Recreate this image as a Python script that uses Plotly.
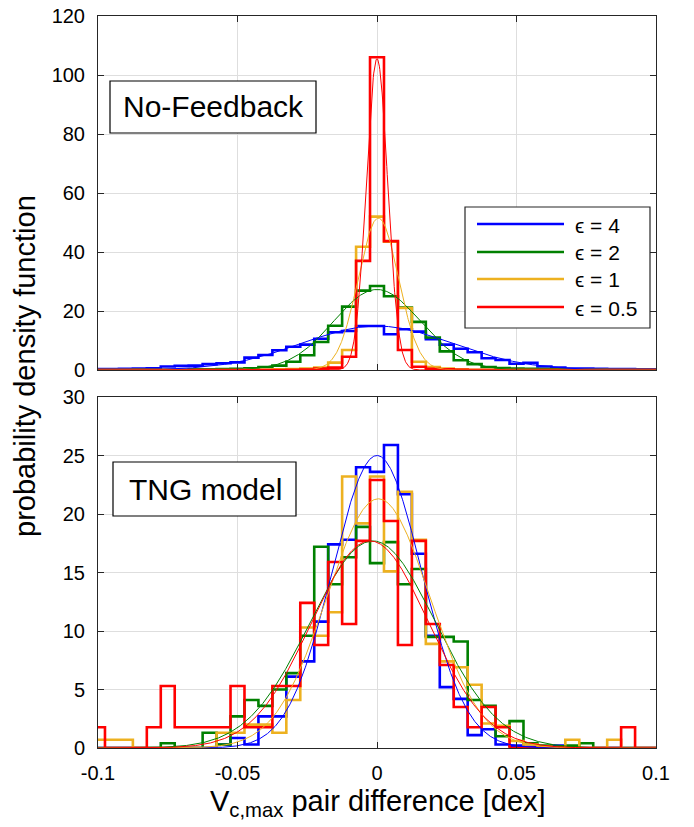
import numpy as np
import plotly.graph_objects as go

# ---------------- data ----------------
bin_centers = [-0.1, -0.095, -0.09, -0.085, -0.08, -0.075, -0.07, -0.065, -0.06, -0.055,
               -0.05, -0.045, -0.04, -0.035, -0.03, -0.025, -0.02, -0.015, -0.01, -0.005,
               0.0, 0.005, 0.01, 0.015, 0.02, 0.025, 0.03, 0.035, 0.04, 0.045,
               0.05, 0.055, 0.06, 0.065, 0.07, 0.075, 0.08, 0.085, 0.09, 0.095, 0.1]
bin_width = 0.005

series_names = ["ϵ = 4", "ϵ = 2", "ϵ = 1", "ϵ = 0.5"]
series_colors = ["#0000FF", "#008000", "#EDB120", "#FF0000"]

# No-Feedback panel (pdf values per bin)
nf_eps4 = [0.3, 0.3, 0.4, 0.5, 0.6, 1.2, 1.4, 1.5, 2.0, 2.3,
           2.6, 4.2, 5.1, 6.7, 7.9, 8.6, 10.6, 12.8, 13.2, 14.9,
           14.9, 12.1, 13.8, 13.0, 10.4, 8.6, 7.2, 6.0, 4.0, 3.4,
           2.1, 2.4, 1.2, 0.8, 0.5, 0.5, 0.4, 0.3, 0.3, 0.2, 0.2]
nf_eps2 = [0.0, 0.0, 0.0, 0.1, 0.1, 0.1, 0.1, 0.2, 0.2, 0.3,
           0.4, 0.6, 1.0, 1.5, 2.8, 5.0, 9.5, 15.0, 21.5, 26.9,
           28.5, 25.0, 21.2, 16.3, 11.0, 6.3, 3.3, 2.0, 1.0, 0.7,
           0.5, 0.4, 0.3, 0.2, 0.1, 0.1, 0.1, 0.0, 0.0, 0.0, 0.0]
nf_eps1 = [0.0, 0.0, 0.0, 0.0, 0.0, 0.0, 0.0, 0.0, 0.0, 0.0,
           0.0, 0.1, 0.1, 0.2, 0.3, 0.45, 0.8, 2.5, 6.8, 41.8,
           52.0, 43.5, 21.0, 2.8, 1.0, 0.5, 0.2, 0.1, 0.1, 0.0,
           0.0, 0.0, 0.0, 0.0, 0.0, 0.0, 0.0, 0.0, 0.0, 0.0, 0.0]
nf_eps05 = [0.0, 0.0, 0.0, 0.0, 0.0, 0.0, 0.0, 0.0, 0.0, 0.0,
            0.0, 0.0, 0.0, 0.0, 0.1, 0.2, 0.5, 0.8, 4.5, 37.0,
            106.0, 43.7, 6.8, 1.1, 0.4, 0.2, 0.1, 0.0, 0.0, 0.0,
            0.0, 0.0, 0.0, 0.0, 0.0, 0.0, 0.0, 0.0, 0.0, 0.0, 0.0]

# TNG model panel
tng_eps4 = [0.0, 0.0, 0.0, 0.0, 0.0, 0.0, 0.0, 0.0, 0.0, 0.3,
            0.86, 0.3, 2.7, 2.7, 6.1, 7.4, 10.8, 17.4, 17.8, 24.0,
            23.6, 25.9, 21.7, 16.6, 9.6, 5.2, 4.2, 1.1, 1.6, 0.3,
            0.2, 0.1, 0.1, 0.2, 0.0, 0.0, 0.0, 0.0, 0.0, 0.0, 0.0]
tng_eps2 = [0.0, 0.0, 0.0, 0.0, 0.0, 0.4, 0.0, 0.0, 1.3, 0.3,
            2.7, 4.1, 3.6, 5.0, 6.4, 9.6, 17.2, 14.0, 16.3, 18.9,
            15.8, 17.6, 14.0, 15.3, 9.5, 9.5, 9.1, 4.1, 3.6, 1.0,
            2.3, 0.4, 0.2, 0.1, 0.2, 0.4, 0.0, 0.0, 0.0, 0.0, 0.0]
tng_eps1 = [0.7, 0.7, 0.7, 0.0, 0.0, 0.0, 0.0, 0.0, 0.0, 1.3,
            1.3, 2.0, 2.0, 1.3, 4.1, 10.3, 9.6, 11.6, 23.2, 19.2,
            23.2, 15.1, 21.9, 17.8, 8.9, 7.4, 6.9, 5.4, 2.1, 1.9,
            0.6, 0.3, 0.1, 0.0, 0.7, 0.0, 0.0, 0.7, 0.0, 0.0, 0.0]
tng_eps05 = [1.77, 0.0, 0.0, 0.0, 1.77, 5.3, 1.77, 1.77, 1.77, 1.77,
             5.3, 1.77, 1.77, 5.3, 5.3, 12.4, 8.8, 15.9, 10.6, 17.7,
             22.9, 19.4, 8.8, 17.7, 10.6, 7.1, 3.5, 1.77, 3.5, 1.77,
             0.0, 0.0, 0.0, 0.0, 0.0, 0.0, 0.0, 0.0, 1.77, 0.0, 0.0]

# fitted normal curves: peak height, mean, sigma
nf_fit_peak = [14.9, 27.3, 51.5, 105.5]
nf_fit_mu = [0.0, 0.0, 0.0005, 0.0]
nf_fit_sigma = [0.027, 0.0155, 0.0072, 0.0038]
tng_fit_peak = [25.0, 17.7, 21.3, 17.7]
tng_fit_mu = [0.0, -0.0015, 0.0005, -0.0025]
tng_fit_sigma = [0.016, 0.0225, 0.0185, 0.021]

x_ticks = [-0.1, -0.05, 0, 0.05, 0.1]
x_tick_labels = ["-0.1", "-0.05", "0", "0.05", "0.1"]
top_y_ticks = [0, 20, 40, 60, 80, 100, 120]
bottom_y_ticks = [0, 5, 10, 15, 20, 25, 30]

panel_labels = ["No-Feedback", "TNG model"]
x_title = "V<sub>c,max</sub> pair difference [dex]"
y_title = "probability density function"

# ---------------- figure ----------------
W, H = 694, 827
L, R, T, B = 98, 656, 16, 748   # plot-area edges in the picture
FONT = "Liberation Sans, Arial, Helvetica, sans-serif"
AXC = "#262626"
GRID = "#dedede"


def px(x):
    return (x - L) / (R - L)


def py(y):
    return (B - y) / (B - T)


def stairs(vals):
    lefts = [c - bin_width / 2 for c in bin_centers]
    xs = [lefts[0]] + lefts + [bin_centers[-1] + bin_width / 2]
    ys = [0.0] + list(vals) + [0.0]
    return xs, ys


fig = go.Figure()

panels = [
    ("x", "y", [nf_eps4, nf_eps2, nf_eps1, nf_eps05], nf_fit_peak, nf_fit_mu, nf_fit_sigma),
    ("x2", "y2", [tng_eps4, tng_eps2, tng_eps1, tng_eps05], tng_fit_peak, tng_fit_mu, tng_fit_sigma),
]

xf = np.linspace(-0.1, 0.1, 1201)
for xa, ya, hists, pk, mu, sg in panels:
    for vals, col, name in zip(hists, series_colors, series_names):
        xs, ys = stairs(vals)
        fig.add_trace(go.Scatter(x=xs, y=ys, mode="lines", line=dict(color=col, width=2.6, shape="hv"),
                                 name=name, showlegend=False, xaxis=xa, yaxis=ya, hoverinfo="skip"))
    for p, m, s, col in zip(pk, mu, sg, series_colors):
        yf = p * np.exp(-0.5 * ((xf - m) / s) ** 2)
        fig.add_trace(go.Scatter(x=xf, y=yf, mode="lines", line=dict(color=col, width=1),
                                 showlegend=False, xaxis=xa, yaxis=ya, hoverinfo="skip"))

common_axis = dict(showline=True, linecolor=AXC, linewidth=1, mirror="ticks", ticks="inside",
                   ticklen=6, tickcolor=AXC, showgrid=True, gridcolor=GRID, gridwidth=1,
                   zeroline=False, automargin=False, ticklabeloverflow="allow",
                   tickfont=dict(family=FONT, size=20, color="#000000"))

top_dom = [py(370), 1.0]
bot_dom = [0.0, py(397)]

fig.update_layout(
    width=W, height=H,
    margin=dict(l=L, r=W - R, t=T, b=H - B, autoexpand=False),
    paper_bgcolor="white", plot_bgcolor="white",
    font=dict(family=FONT, color="#000000"),
    hovermode=False,
    xaxis=dict(range=[-0.1, 0.1], tickvals=x_ticks, showticklabels=False, anchor="y", **common_axis),
    yaxis=dict(range=[0, 120], tickvals=top_y_ticks, domain=top_dom, anchor="x",
               ticklabelstandoff=8, **common_axis),
    xaxis2=dict(range=[-0.1, 0.1], tickvals=x_ticks, ticktext=x_tick_labels, anchor="y2",
                ticklabelstandoff=7, **common_axis),
    yaxis2=dict(range=[0, 30], tickvals=bottom_y_ticks, domain=bot_dom, anchor="x2",
                ticklabelstandoff=8, **common_axis),
    showlegend=False,
)

shapes = []
annotations = []

# panel label boxes
boxes = [((110, 81, 316, 133), (213, 107)), ((113, 462, 296, 516), (205, 489))]
for (x0, y0, x1, y1), _ in boxes:
    shapes.append(dict(type="rect", xref="paper", yref="paper", x0=px(x0), x1=px(x1), y0=py(y1), y1=py(y0),
                       line=dict(color="#000000", width=1.2), fillcolor="white", layer="above"))
for lab, (_, (tx, ty)) in zip(panel_labels, boxes):
    annotations.append(dict(text=lab, xref="paper", yref="paper", x=px(tx), y=py(ty), showarrow=False,
                            xanchor="center", yanchor="middle", font=dict(family=FONT, size=30, color="#000000")))

# legend (top panel)
shapes.append(dict(type="rect", xref="paper", yref="paper", x0=px(465), x1=px(650), y0=py(328), y1=py(207),
                   line=dict(color=AXC, width=1.2), fillcolor="white", layer="above"))
leg_y = [224, 252, 279, 307]
for name, col, yy in zip(series_names, series_colors, leg_y):
    shapes.append(dict(type="line", xref="paper", yref="paper", x0=px(477), x1=px(564), y0=py(yy), y1=py(yy),
                       line=dict(color=col, width=2.6), layer="above"))
    annotations.append(dict(text=name, xref="paper", yref="paper", x=px(573), y=py(yy + 1), showarrow=False,
                            xanchor="left", yanchor="middle", font=dict(family=FONT, size=21, color="#000000")))

# axis titles
annotations.append(dict(text=x_title, xref="paper", yref="paper", x=px(378), y=py(803), showarrow=False,
                        xanchor="center", yanchor="middle", font=dict(family=FONT, size=29, color="#000000")))
annotations.append(dict(text=y_title, xref="paper", yref="paper", x=px(25), y=py(366), showarrow=False,
                        textangle=-90, xanchor="center", yanchor="middle",
                        font=dict(family=FONT, size=29, color="#000000")))

fig.update_layout(shapes=shapes, annotations=annotations)

# remove the default page margin so the figure sits at the window's corner
fig.write_html("out.html", config={"displayModeBar": False},
               post_script="document.body.style.margin='0px';")
